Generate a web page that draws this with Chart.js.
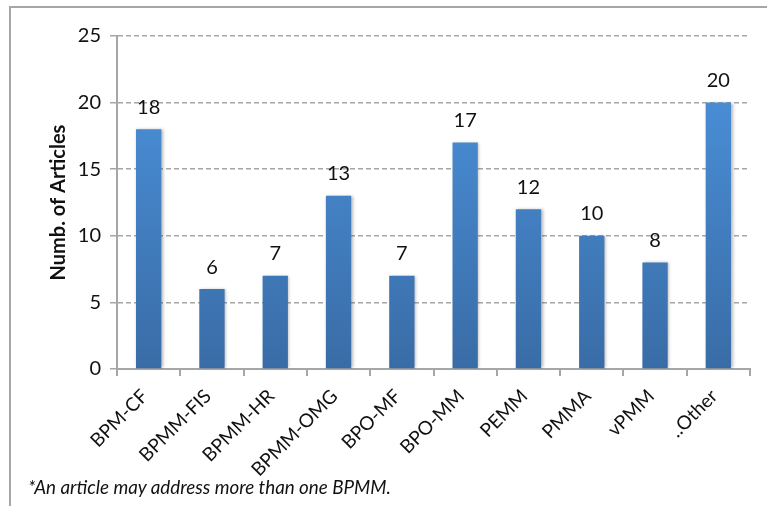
<!DOCTYPE html>
<html>
<head>
<meta charset="utf-8">
<script src="https://cdn.jsdelivr.net/npm/chart.js@4.4.1/dist/chart.umd.min.js"></script>
<style>
  html, body { margin: 0; padding: 0; background: #fff; }
  #wrap { position: relative; width: 767px; height: 506px; overflow: hidden; }
  #frame { position: absolute; left: 9px; top: 6px; width: 800px; height: 600px;
           border-left: 2px solid #a6a6a6; border-top: 2px solid #a6a6a6; }
  #note { position: absolute; left: 28px; top: 475px; font-family: Lato, sans-serif;
          font-style: italic; font-size: 18.8px; color: #111; white-space: nowrap; }
  canvas { position: absolute; left: 0; top: 0; }
</style>
</head>
<body>
<div id="wrap">
  <div id="frame"></div>
  <canvas id="chart" width="767" height="506"></canvas>
  <div id="note">*An article may address more than one BPMM.</div>
</div>
<script>
const categories = ['BPM-CF', 'BPMM-FIS', 'BPMM-HR', 'BPMM-OMG', 'BPO-MF', 'BPO-MM', 'PEMM', 'PMMA', 'vPMM', '..Other'];
const articleCounts = [18, 6, 7, 13, 7, 17, 12, 10, 8, 20];
const yTicks = [0, 5, 10, 15, 20, 25];

// values above bars
const valueLabels = {
    id: 'valueLabels',
    afterDatasetsDraw(chart) {
        const ctx = chart.ctx;
        ctx.save();
        ctx.font = '20px Lato, sans-serif';
        ctx.fillStyle = '#111';
        ctx.textAlign = 'center';
        ctx.textBaseline = 'bottom';
        chart.getDatasetMeta(0).data.forEach((bar, i) => {
            ctx.fillText(articleCounts[i], bar.x, bar.y - 12);
        });
        ctx.restore();
    }
};

// light shadow on bars
const barShadow = {
    id: 'barShadow',
    beforeDatasetsDraw(chart) {
        const ctx = chart.ctx;
        ctx.save();
        ctx.shadowColor = 'rgba(0,0,0,0.3)';
        ctx.shadowBlur = 3;
        ctx.shadowOffsetX = 1.5;
        ctx.shadowOffsetY = 0;
    },
    afterDatasetsDraw(chart) {
        chart.ctx.restore();
    }
};

const ctx = document.getElementById('chart').getContext('2d');
new Chart(ctx, {
    type: 'bar',
    data: {
        labels: categories,
        datasets: [{
            data: articleCounts,
            backgroundColor: (c) => {
                const area = c.chart.chartArea;
                if (!area) return '#4585c9';
                const g = c.chart.ctx.createLinearGradient(0, area.top, 0, area.bottom);
                g.addColorStop(0, '#4d95e0');
                g.addColorStop(1, '#396ca6');
                return g;
            },
            barPercentage: 0.4,
            categoryPercentage: 1
        }]
    },
    plugins: [barShadow, valueLabels],
    options: {
        responsive: false,
        animation: false,
        layout: { padding: { left: 47, right: 17, top: 36, bottom: 16 } },
        plugins: {
            legend: { display: false },
            tooltip: { enabled: false }
        },
        scales: {
            x: {
                grid: { display: true, drawOnChartArea: false, drawTicks: true, tickLength: 7, color: '#a6a6a6', lineWidth: 2, offset: true },
                border: { display: true, color: '#a6a6a6', width: 2 },
                ticks: {
                    color: '#111',
                    font: { family: 'Lato, sans-serif', size: 19 },
                    minRotation: 45,
                    maxRotation: 45,
                    autoSkip: false,
                    padding: 9,
                    labelOffset: -4
                },
                afterFit: (scale) => { scale.height = 121; }
            },
            y: {
                min: 0,
                max: 25,
                afterBuildTicks: (scale) => { scale.ticks = yTicks.map(v => ({ value: v })); },
                grid: { color: '#a6a6a6', lineWidth: 1.5, tickLength: 7 },
                border: { display: true, color: '#a6a6a6', width: 2, dash: [5, 3] },
                ticks: {
                    color: '#111',
                    font: { family: 'Lato, sans-serif', size: 20 },
                    padding: 9
                },
                title: {
                    display: true,
                    text: 'Numb. of Articles',
                    color: '#111',
                    font: { family: 'Lato, sans-serif', size: 20, weight: 'bold' },
                    padding: 0
                },
                afterFit: (scale) => { scale.width = 70; }
            }
        }
    }
});
</script>
</body>
</html>
